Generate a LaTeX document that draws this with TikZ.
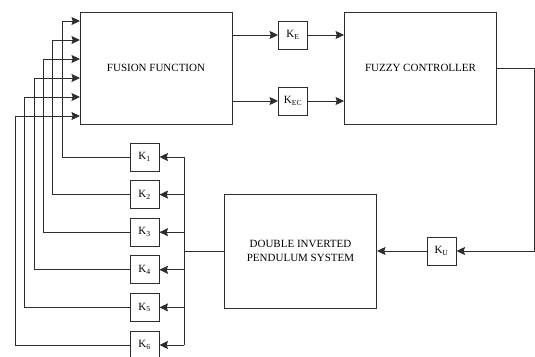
\documentclass[tikz,border=0pt]{standalone}
\usepackage{fontspec}
\setmainfont{Liberation Serif}
\usepackage{tikz}
\usetikzlibrary{arrows.meta,positioning,calc}
\definecolor{linegray}{RGB}{45, 45, 45}

\begin{document}
\begin{tikzpicture}[x=1pt, y=-1pt,
  bigblock/.style={draw=linegray, line width=0.9pt, rectangle, minimum width=152pt, minimum height=112pt, align=center, font=\fontsize{11}{13.3}\selectfont, inner sep=0pt},
  gain/.style={draw=linegray, line width=0.9pt, rectangle, minimum width=29pt, minimum height=28pt, font=\fontsize{11}{13}\selectfont, inner sep=0pt},
  flow/.style={draw=linegray, line width=0.9pt, -{Stealth[length=8.5pt, width=8pt, inset=1.2pt]}},
  wire/.style={draw=linegray, line width=0.9pt}
]
\useasboundingbox (0,0) rectangle (535,356);

\node[bigblock] (fusion) at (156, 68) {FUSION FUNCTION};
\node[bigblock] (fuzzy) at (420.5, 68) {FUZZY CONTROLLER};
\node[bigblock, minimum height=114pt] (dips) at (300.5, 251) {DOUBLE INVERTED\\PENDULUM SYSTEM};
\node[gain] (ke) at (293, 35) {K\textsubscript{E}};
\node[gain] (kec) at (293, 101) {K\textsubscript{EC}};
\node[gain] (ku) at (441.5, 251) {K\textsubscript{U}};
\node[gain] (k1) at (144.5, 157) {K\textsubscript{1}};
\node[gain] (k2) at (144.5, 194.6) {K\textsubscript{2}};
\node[gain] (k3) at (144.5, 232.2) {K\textsubscript{3}};
\node[gain] (k4) at (144.5, 269.8) {K\textsubscript{4}};
\node[gain] (k5) at (144.5, 307.4) {K\textsubscript{5}};
\node[gain] (k6) at (144.5, 345) {K\textsubscript{6}};

\coordinate (in1) at (80, 21);
\coordinate (in2) at (80, 40);
\coordinate (in3) at (80, 59);
\coordinate (in4) at (80, 78);
\coordinate (in5) at (80, 97);
\coordinate (in6) at (80, 116);
\coordinate (bus) at (184, 251);

% Connections
\draw[flow] (fusion.east |- ke) -- (ke);
\draw[flow] (ke) -- (fuzzy.west |- ke);
\draw[flow] (fusion.east |- kec) -- (kec);
\draw[flow] (kec) -- (fuzzy.west |- kec);
\draw[flow] (fuzzy.east) -- ++(37,0) |- (ku.east);
\draw[flow] (ku) -- (dips.east);

% Feedback
\draw[wire] (dips.west) -- (bus);
\draw[wire] (bus |- k1) -- (bus |- k6);
\draw[flow] (bus |- k1) -- (k1.east);
\draw[flow] (bus |- k2) -- (k2.east);
\draw[flow] (bus |- k3) -- (k3.east);
\draw[flow] (bus |- k4) -- (k4.east);
\draw[flow] (bus |- k5) -- (k5.east);
\draw[flow] (bus |- k6) -- (k6.east);
\draw[flow] (k1.west) -| ($(in1)+(-18,0)$) -- (in1);
\draw[flow] (k2.west) -| ($(in2)+(-28,0)$) -- (in2);
\draw[flow] (k3.west) -| ($(in3)+(-37,0)$) -- (in3);
\draw[flow] (k4.west) -| ($(in4)+(-46,0)$) -- (in4);
\draw[flow] (k5.west) -| ($(in5)+(-56,0)$) -- (in5);
\draw[flow] (k6.west) -| ($(in6)+(-65,0)$) -- (in6);

\end{tikzpicture}
\end{document}
